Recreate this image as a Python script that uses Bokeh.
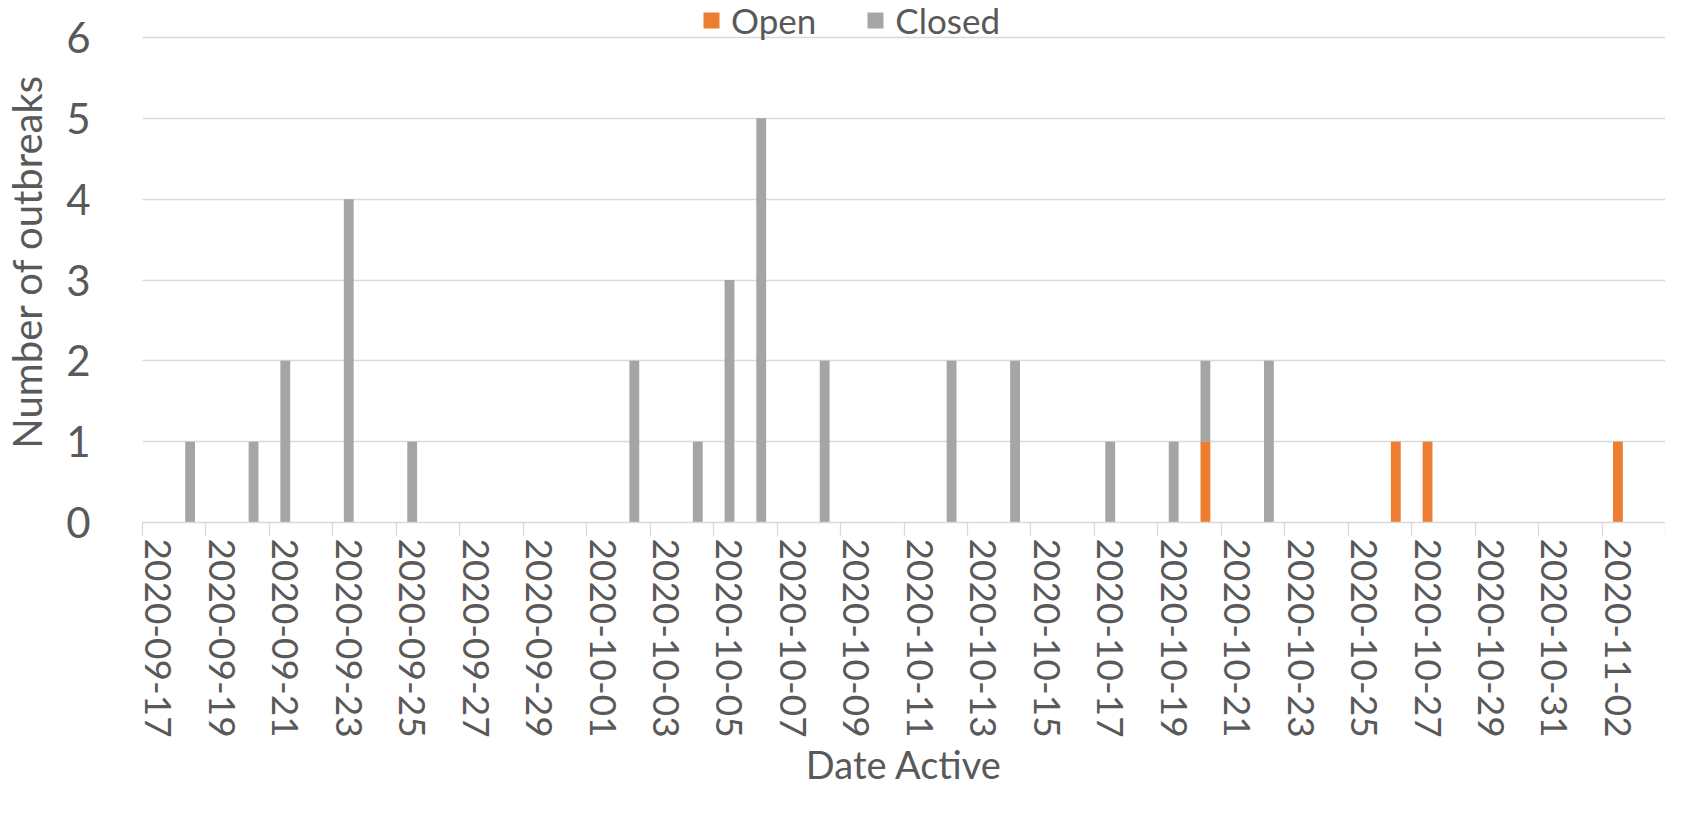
import pandas as pd
from bokeh.plotting import figure
from bokeh.models import Range1d, FixedTicker, DatetimeTickFormatter, ColumnDataSource, Legend
from bokeh.embed import file_html
from bokeh.resources import INLINE

# ---- data ----
dates = ["2020-09-18", "2020-09-20", "2020-09-21", "2020-09-23", "2020-09-25",
         "2020-10-02", "2020-10-04", "2020-10-05", "2020-10-06", "2020-10-08",
         "2020-10-12", "2020-10-14", "2020-10-17", "2020-10-19", "2020-10-20",
         "2020-10-22", "2020-10-26", "2020-10-27", "2020-11-02"]
open_counts = [0, 0, 0, 0, 0, 0, 0, 0, 0, 0, 0, 0, 0, 0, 1, 0, 1, 1, 1]
closed_counts = [1, 1, 2, 4, 1, 2, 1, 3, 5, 2, 2, 2, 1, 1, 1, 2, 0, 0, 0]
series = ["Open", "Closed"]
axis_start = "2020-09-17"
axis_end = "2020-11-04"
y_ticks = [0, 1, 2, 3, 4, 5, 6]
x_title = "Date Active"
y_title = "Number of outbreaks"

ORANGE = "#ED7D31"
GRAY = "#A5A5A5"
TEXT = "#595959"
GRID = "#D9D9D9"
FONT = "Lato"

# ---- layout constants (pixels) ----
FIG_W, FIG_H = 1665, 803
BORDER_LEFT = 136
BORDER_BOTTOM = 281
FRAME_H = FIG_H - BORDER_BOTTOM          # frame spans the full top of the figure
TOP_GRID_PX = 37                         # pixel offset of the "6" gridline from the top
Y_TOP = max(y_ticks) * FRAME_H / (FRAME_H - TOP_GRID_PX)

DAY_MS = 86400000
x = pd.to_datetime(dates) + pd.Timedelta(hours=12)
src = ColumnDataSource(dict(x=x, Open=open_counts, Closed=closed_counts))

start = pd.Timestamp(axis_start)
end = pd.Timestamp(axis_end)

p = figure(width=FIG_W, height=FIG_H, x_axis_type="datetime",
           x_range=Range1d(start, end), y_range=Range1d(0, Y_TOP),
           output_backend="svg", toolbar_location=None,
           min_border_left=BORDER_LEFT, min_border_right=0,
           min_border_top=0, min_border_bottom=BORDER_BOTTOM)
p.outline_line_color = None
p.background_fill_color = "white"

rs = p.vbar_stack(series, x="x", width=0.31 * DAY_MS, source=src,
                  fill_color=[ORANGE, GRAY], line_color=None)

# x axis ticks: boundaries every 2 days (minor), labels at day centres (major)
bounds = pd.date_range(start, end, freq="2D")
minor_ms = [int(b.value // 10**6) for b in bounds]
major_ms = [int((b + pd.Timedelta(hours=12)).value // 10**6) for b in bounds[:-1]]
p.xaxis.ticker = FixedTicker(ticks=major_ms, minor_ticks=minor_ms)
fmt = "%Y-%m-%d"
p.xaxis.formatter = DatetimeTickFormatter(
    milliseconds=fmt, seconds=fmt, minsec=fmt, minutes=fmt, hourmin=fmt,
    hours=fmt, days=fmt, months=fmt, years=fmt)
p.xaxis.major_label_orientation = "vertical"
p.xaxis.major_tick_out = 0
p.xaxis.major_tick_in = 0
p.xaxis.major_tick_line_color = None
p.xaxis.minor_tick_out = 13
p.xaxis.minor_tick_in = 0
p.xaxis.minor_tick_line_color = GRID
p.xaxis.minor_tick_line_width = 1.3
p.xaxis.axis_line_color = GRID
p.xaxis.axis_line_width = 1.3
p.xaxis.major_label_standoff = 3
p.xaxis.major_label_text_font = FONT
p.xaxis.major_label_text_font_size = "37px"
p.xaxis.major_label_text_color = TEXT
p.xaxis.axis_label = x_title
p.xaxis.axis_label_text_font = FONT
p.xaxis.axis_label_text_font_size = "38px"
p.xaxis.axis_label_text_font_style = "normal"
p.xaxis.axis_label_text_color = TEXT
p.xaxis.axis_label_text_line_height = 1.0
p.xaxis.axis_label_standoff = 0

# y axis
p.yaxis.ticker = FixedTicker(ticks=y_ticks)
p.yaxis.axis_line_color = None
p.yaxis.major_tick_line_color = None
p.yaxis.minor_tick_line_color = None
p.yaxis.major_tick_out = 0
p.yaxis.major_tick_in = 0
p.yaxis.major_label_standoff = 52
p.yaxis.major_label_text_font = FONT
p.yaxis.major_label_text_font_size = "42px"
p.yaxis.major_label_text_color = TEXT
p.yaxis.axis_label = y_title
p.yaxis.axis_label_text_font = FONT
p.yaxis.axis_label_text_font_size = "40px"
p.yaxis.axis_label_text_font_style = "normal"
p.yaxis.axis_label_text_color = TEXT
p.yaxis.axis_label_standoff = 12

p.xgrid.visible = False
p.ygrid.grid_line_color = GRID
p.ygrid.grid_line_width = 1.3

# legend inside the top strip of the plot area, above the "6" gridline
LEG_H = 41
lg = Legend(items=[(name, [r]) for name, r in zip(series, rs)],
            location=(559, FRAME_H - LEG_H), orientation="horizontal",
            glyph_width=20, glyph_height=20, label_standoff=10, spacing=49,
            padding=0, margin=0, border_line_color=None,
            background_fill_alpha=0, label_text_font=FONT,
            label_text_font_size="35px", label_text_color=TEXT)
p.add_layout(lg)

open("out.html", "w").write(file_html(p, INLINE))
